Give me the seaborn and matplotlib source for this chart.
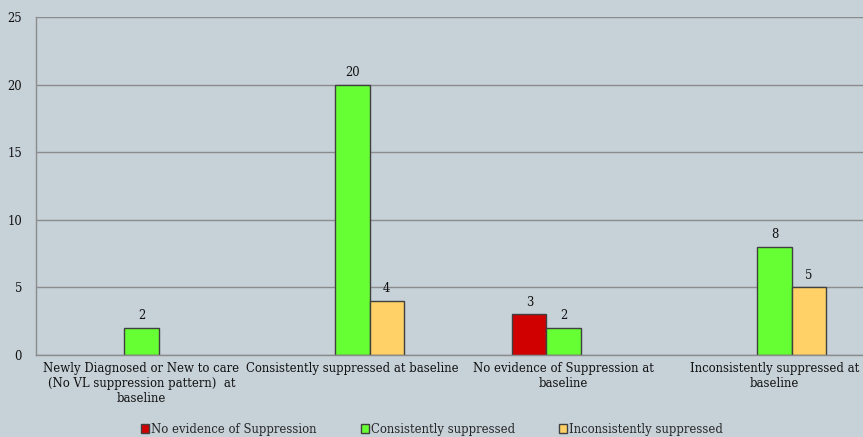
import matplotlib
matplotlib.use("Agg")
import matplotlib.pyplot as plt
import seaborn as sns
import pandas as pd
import numpy as np

categories = [
    "Newly Diagnosed or New to care\n(No VL suppression pattern)  at\nbaseline",
    "Consistently suppressed at baseline",
    "No evidence of Suppression at\nbaseline",
    "Inconsistently suppressed at\nbaseline",
]
series = ["No evidence of Suppression", "Consistently suppressed", "Inconsistently suppressed"]
no_evidence = [None, None, 3, None]
consistently = [2, 20, 2, 8]
inconsistently = [None, 4, None, 5]
colors = ["#d10000", "#66ff33", "#ffd166"]
yticks = [0, 5, 10, 15, 20, 25]

rows = []
for name, vals in zip(series, [no_evidence, consistently, inconsistently]):
    for cat, v in zip(categories, vals):
        if v is not None:
            rows.append({"category": cat, "series": name, "value": v})
df = pd.DataFrame(rows)

bg = "#c6d1d8"
fs = 8.4
sns.set_theme(style="white")
plt.rcParams["font.family"] = ["DejaVu Serif"]

fig = plt.figure(figsize=(8.63, 4.37), dpi=100)
fig.patch.set_facecolor(bg)
ax = fig.add_axes([36 / 863, 1 - 355 / 437, 844 / 863, 338 / 437])
ax.set_facecolor(bg)

sns.barplot(data=df, x="category", y="value", hue="series",
            order=categories, hue_order=series, palette=colors,
            width=0.485, edgecolor="#404040", linewidth=1.0,
            saturation=1, ax=ax, legend=True)

for cont in ax.containers:
    labels = [f"{v:g}" if not np.isnan(v) else "" for v in cont.datavalues]
    ax.bar_label(cont, labels=labels, padding=4, fontsize=fs, color="#111111")

ax.set_ylim(0, 25)
ax.set_yticks(yticks)
ax.set_yticklabels([str(t) for t in yticks], fontsize=fs, color="#111111")
ax.tick_params(axis="y", length=0, pad=10)
ax.tick_params(axis="x", length=0, pad=5, labelsize=fs, labelcolor="#111111")
ax.yaxis.grid(True, color="#8c8c8c", linewidth=1.0)
ax.set_axisbelow(True)
ax.set_xlabel("")
ax.set_ylabel("")
for s in ["top", "right"]:
    ax.spines[s].set_visible(False)
for s in ["left", "bottom"]:
    ax.spines[s].set_color("#8c8c8c")
    ax.spines[s].set_linewidth(1.0)

handles, lbls = ax.get_legend_handles_labels()
ax.legend(handles, lbls, loc="center", bbox_to_anchor=(432 / 863, 1 - 429 / 437),
          bbox_transform=fig.transFigure, ncol=3, frameon=False,
          fontsize=fs, handlelength=0.7, handleheight=0.7, handletextpad=0.15,
          columnspacing=3.8)

fig.savefig("out.png", dpi=100, facecolor=bg)
